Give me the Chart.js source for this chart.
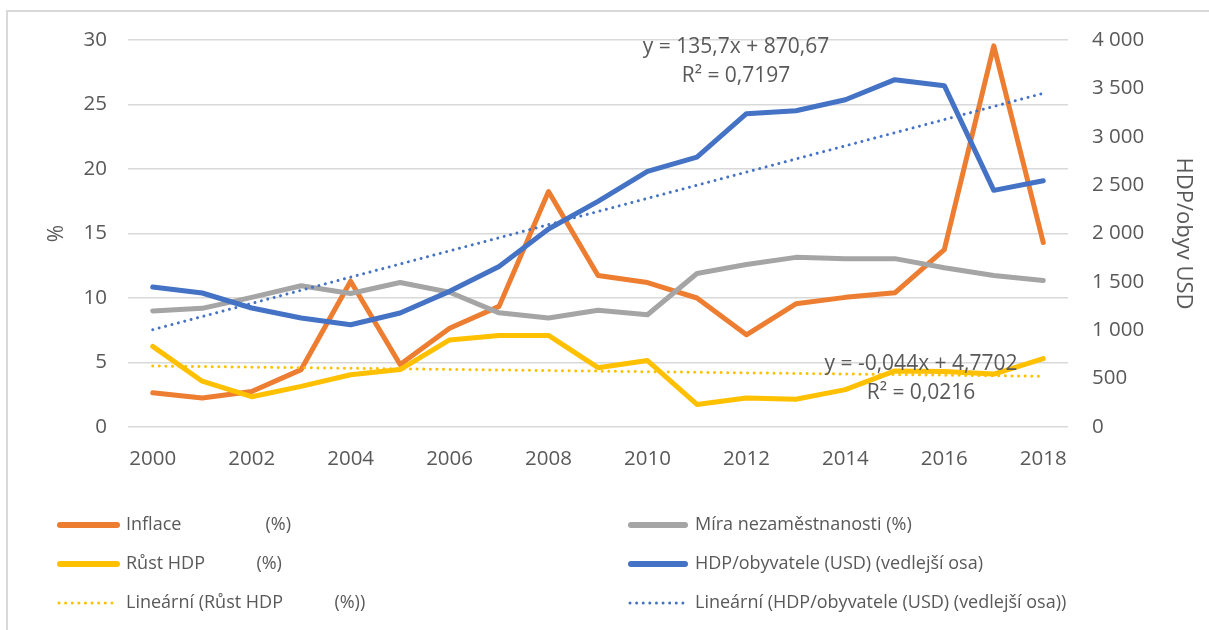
<!DOCTYPE html>
<html>
<head>
<meta charset="utf-8">
<script src="https://cdn.jsdelivr.net/npm/chart.js@4.4.1/dist/chart.umd.min.js"></script>
<style>
  html, body { margin: 0; padding: 0; background: #fff; }
  #wrap { width: 1209px; height: 630px; position: relative; }
</style>
</head>
<body>
<div id="wrap"><canvas id="chart" width="1209" height="630"></canvas></div>
<script>
// data
const years = ['2000', '2001', '2002', '2003', '2004', '2005', '2006', '2007', '2008', '2009',
               '2010', '2011', '2012', '2013', '2014', '2015', '2016', '2017', '2018'];
const inflace = [2.65, 2.25, 2.75, 4.45, 11.3, 4.85, 7.65, 9.35, 18.25, 11.75,
                 11.2, 10.0, 7.15, 9.55, 10.05, 10.4, 13.75, 29.55, 14.3];
const nezamestnanost = [9.0, 9.2, 10.05, 10.95, 10.35, 11.2, 10.45, 8.85, 8.45, 9.05,
                        8.7, 11.9, 12.6, 13.15, 13.05, 13.05, 12.35, 11.75, 11.35];
const rustHdp = [6.25, 3.55, 2.35, 3.15, 4.05, 4.45, 6.75, 7.1, 7.1, 4.6,
                 5.15, 1.75, 2.25, 2.15, 2.9, 4.35, 4.3, 4.1, 5.3];
const hdpObyv = [1447, 1385, 1230, 1127, 1057, 1178, 1402, 1660, 2046, 2332,
                 2642, 2790, 3238, 3269, 3383, 3590, 3528, 2446, 2546];
// trend lines: only their end points (2000 and 2018)
const trendRust = [4.73, null, null, null, null, null, null, null, null, null,
                   null, null, null, null, null, null, null, null, 3.93];
const trendHdp = [1006, null, null, null, null, null, null, null, null, null,
                  null, null, null, null, null, null, null, null, 3449];

const leftTicks = [0, 5, 10, 15, 20, 25, 30];
const rightTicks = [0, 500, 1000, 1500, 2000, 2500, 3000, 3500, 4000];

const labels = [
  'Inflace                  (%)',
  'Míra nezaměstnanosti (%)',
  'Růst HDP           (%)',
  'HDP/obyvatele (USD) (vedlejší osa)',
  'Lineární (Růst HDP           (%))',
  'Lineární (HDP/obyvatele (USD) (vedlejší osa))'
];

const FONT = '"Open Sans", "Noto Sans", sans-serif';
const TEXT = '#595959';
const GRID = '#d9d9d9';

function fmtThousands(v) {
  return String(v).replace(/\B(?=(\d{3})+(?!\d))/g, ' ');
}

function lineDs(label, data, color, axis, order) {
  return {
    label: label, data: data, yAxisID: axis, order: order,
    borderColor: color, backgroundColor: color,
    borderWidth: 5, pointRadius: 0, tension: 0,
    borderJoinStyle: 'round', borderCapStyle: 'round'
  };
}
function trendDs(label, data, color, axis, order) {
  return {
    label: label, data: data, yAxisID: axis, order: order,
    borderColor: color, backgroundColor: color,
    borderWidth: 3, pointRadius: 0, spanGaps: true,
    borderDash: [0.01, 6.6], borderCapStyle: 'round'
  };
}

// chart frame + white background
const framePlugin = {
  id: 'frame',
  beforeDraw(chart) {
    const ctx = chart.ctx;
    ctx.save();
    ctx.fillStyle = '#fff';
    ctx.fillRect(0, 0, chart.width, chart.height);
    ctx.strokeStyle = GRID;
    ctx.lineWidth = 2;
    ctx.strokeRect(7, 11, chart.width + 20, chart.height + 20);
    ctx.restore();
  }
};

// trendline equation labels
const notes = [
  { lines: ['y = 135,7x + 870,67', 'R² = 0,7197'], x: 736, y: 47 },
  { lines: ['y = -0,044x + 4,7702', 'R² = 0,0216'], x: 921, y: 364 }
];
const notesPlugin = {
  id: 'notes',
  afterDatasetsDraw(chart) {
    const ctx = chart.ctx;
    ctx.save();
    ctx.font = '21px ' + FONT;
    ctx.fillStyle = TEXT;
    ctx.textAlign = 'center';
    ctx.textBaseline = 'middle';
    notes.forEach(function (n) {
      n.lines.forEach(function (t, i) {
        ctx.fillText(t, n.x, n.y + i * 29);
      });
    });
    ctx.restore();
  }
};

// legend in two columns, three rows
const legendPlugin = {
  id: 'legend2col',
  afterDraw(chart) {
    const ctx = chart.ctx;
    const cols = [{ x0: 57, x1: 120, tx: 126 }, { x0: 628, x1: 688, tx: 695 }];
    const rows = [525, 564, 603];
    ctx.save();
    chart.data.datasets.forEach(function (ds, i) {
      const c = cols[i % 2];
      const y = rows[Math.floor(i / 2)];
      ctx.strokeStyle = ds.borderColor;
      ctx.lineCap = 'round';
      if (ds.borderDash) {
        ctx.lineWidth = 3;
        ctx.setLineDash([0.01, 6.6]);
        ctx.beginPath();
        ctx.moveTo(c.x0 + 2, y);
        ctx.lineTo(c.x1 - 4, y);
        ctx.stroke();
      } else {
        ctx.lineWidth = 6;
        ctx.setLineDash([]);
        ctx.beginPath();
        ctx.moveTo(c.x0 + 3, y);
        ctx.lineTo(c.x1 - 3, y);
        ctx.stroke();
      }
      ctx.setLineDash([]);
      ctx.font = '18px ' + FONT;
      ctx.fillStyle = TEXT;
      ctx.textAlign = 'left';
      ctx.textBaseline = 'middle';
      ctx.fillText(ds.label, c.tx, y);
    });
    ctx.restore();
  }
};

const ctx = document.getElementById('chart').getContext('2d');
new Chart(ctx, {
  type: 'line',
  data: {
    labels: years,
    datasets: [
      lineDs(labels[0], inflace, '#ED7D31', 'y', 5),
      lineDs(labels[1], nezamestnanost, '#A5A5A5', 'y', 4),
      lineDs(labels[2], rustHdp, '#FFC000', 'y', 3),
      lineDs(labels[3], hdpObyv, '#4472C4', 'y2', 2),
      trendDs(labels[4], trendRust, '#FFC000', 'y', 1),
      trendDs(labels[5], trendHdp, '#4472C4', 'y2', 0)
    ]
  },
  options: {
    responsive: false,
    animation: false,
    layout: { padding: { top: 40, left: 0, right: 0, bottom: 158 } },
    plugins: { legend: { display: false }, tooltip: { enabled: false } },
    scales: {
      x: {
        offset: true,
        grid: { display: false },
        border: { display: false },
        ticks: {
          color: TEXT, font: { family: FONT, size: 20.5 },
          autoSkip: false, maxRotation: 0, padding: 12,
          callback: function (v, i) { return i % 2 === 0 ? years[i] : ''; }
        },
        afterFit: function (s) { s.height = 45; }
      },
      y: {
        position: 'left', min: 0, max: 30,
        afterBuildTicks: function (s) { s.ticks = leftTicks.map(v => ({ value: v })); },
        grid: { color: GRID, lineWidth: 1.5, drawTicks: false },
        border: { display: false },
        ticks: { color: TEXT, font: { family: FONT, size: 20.5 }, padding: 21 },
        title: { display: true, text: '%', color: TEXT, font: { family: FONT, size: 21 },
                 padding: { top: 44, bottom: 0 } },
        afterFit: function (s) { s.width = 128; }
      },
      y2: {
        position: 'right', min: 0, max: 4000,
        afterBuildTicks: function (s) { s.ticks = rightTicks.map(v => ({ value: v })); },
        grid: { display: false, drawTicks: false },
        border: { display: false },
        ticks: { color: TEXT, font: { family: FONT, size: 20.5 }, padding: 24,
                 callback: function (v) { return fmtThousands(v); } },
        title: { display: true, text: 'HDP/obyv USD', color: TEXT, font: { family: FONT, size: 22 },
                 padding: { top: 13, bottom: 0 } },
        afterFit: function (s) { s.width = 141; }
      }
    }
  },
  plugins: [framePlugin, notesPlugin, legendPlugin]
});
</script>
</body>
</html>
